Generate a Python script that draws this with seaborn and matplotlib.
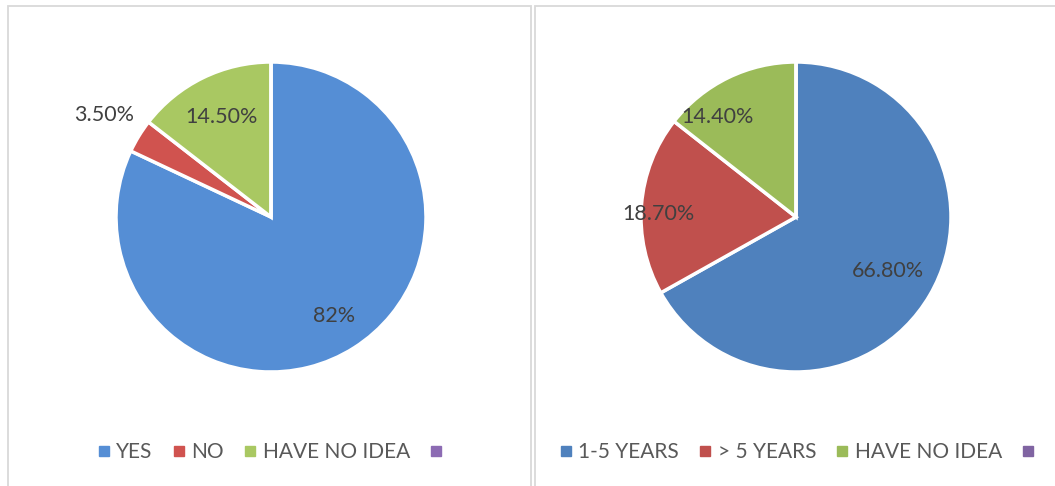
import matplotlib
matplotlib.use("Agg")
import matplotlib.pyplot as plt
from matplotlib.patches import Rectangle
from matplotlib.lines import Line2D
import numpy as np
import seaborn as sns

sns.set_theme(style="white")
plt.rcParams["font.family"] = ["Lato", "DejaVu Sans"]

# Survey answers, left chart
aware_labels = ["YES", "NO", "HAVE NO IDEA", ""]
aware_values = [82.0, 3.5, 14.5, 0.0]
aware_text = ["82%", "3.50%", "14.50%", ""]
aware_colors = ["#558ED5", "#D0534F", "#A9C862", "#8C6BB3"]

# Survey answers, right chart
period_labels = ["1-5 YEARS", "> 5 YEARS", "HAVE NO IDEA", ""]
period_values = [66.8, 18.7, 14.4, 0.0]
period_text = ["66.80%", "18.70%", "14.40%", ""]
period_colors = ["#4F81BD", "#C0504D", "#9BBB59", "#8064A2"]

W, H = 1055, 486
fig = plt.figure(figsize=(W / 100, H / 100), dpi=100)
fig.patch.set_facecolor("white")

# Panel frames
for x0, x1 in [(8, 531), (535, 1062)]:
    fig.add_artist(Rectangle((x0 / W, -0.05), (x1 - x0) / W, (H - 6) / H + 0.05,
                             transform=fig.transFigure, fill=False,
                             edgecolor="#D9D9D9", linewidth=1.3, clip_on=False))


def draw_pie(cx, values, colors, texts, label_r, label_da):
    cy, r = 217, 155
    ax = fig.add_axes([(cx - r) / W, (H - cy - r) / H, 2 * r / W, 2 * r / H])
    ax.pie(values, colors=colors, startangle=90, counterclock=False, radius=1,
           wedgeprops=dict(edgecolor="white", linewidth=2.5))
    ax.set_xlim(-1, 1)
    ax.set_ylim(-1, 1)
    ax.axis("off")
    total = sum(values)
    start = 90.0
    for v, t, lr, da in zip(values, texts, label_r, label_da):
        sweep = v / total * 360
        mid = np.deg2rad(start - sweep / 2 + da)
        start -= sweep
        if t:
            ax.text(lr * np.cos(mid), lr * np.sin(mid), t, ha="center", va="center",
                    fontsize=15.5, color="#404040", clip_on=False)
    return ax


draw_pie(271, aware_values, aware_colors, aware_text,
         [0.76, 1.26, 0.72, 0], [0, 0, 0, 0])
draw_pie(796, period_values, period_colors, period_text,
         [0.69, 0.89, 0.82, 0], [0, 3, 12, 0])


def add_legend(cx, labels, colors):
    handles = [Line2D([], [], marker="s", linestyle="none", markersize=6.5,
                      markerfacecolor=c, markeredgecolor=c) for c in colors]
    fig.legend(handles, labels, loc="center", bbox_to_anchor=(cx / W, 1 - 452 / H),
               ncol=len(labels), frameon=False, fontsize=15, labelcolor="#595959",
               handlelength=0.6, handletextpad=0.3, columnspacing=0.95)


add_legend(273, aware_labels, aware_colors)
add_legend(800, period_labels, period_colors)

fig.savefig("out.png", dpi=100, facecolor="white")
